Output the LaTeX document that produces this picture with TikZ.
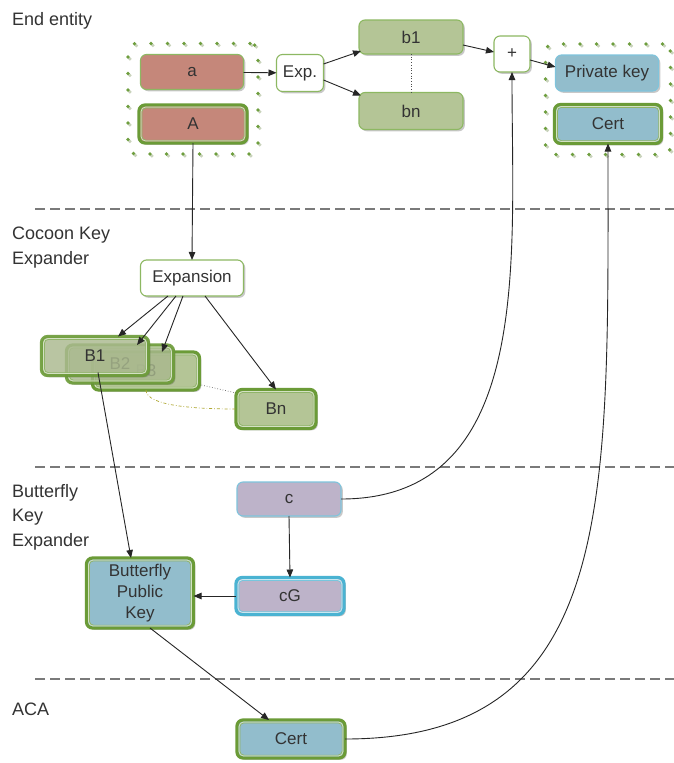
\documentclass[tikz,border=0pt]{standalone}
\usepackage{fontspec}
\setmainfont{Liberation Sans}
\usetikzlibrary{arrows.meta,shadows,fit,calc}
\definecolor{redf}{HTML}{C5877A}
\definecolor{greenf}{HTML}{B4C596}
\definecolor{bluef}{HTML}{92BDCC}
\definecolor{lavf}{HTML}{BDB3C9}
\definecolor{gthin}{HTML}{8DB862}
\definecolor{gthick}{HTML}{6B9B37}
\definecolor{bthin}{HTML}{7FC4DC}
\definecolor{bthick}{HTML}{4AB3D2}
\definecolor{txt}{HTML}{333333}
\definecolor{sepc}{HTML}{7A7A7A}
\definecolor{dotg}{HTML}{6E9E3E}
\definecolor{dotl}{HTML}{C9D3BC}
\newcommand\innerb[2]{%
  \draw[white!70!#2, line width=0.9pt, rounded corners=4.5pt] ([shift={(2.1,2.1)}]#1.north west) rectangle ([shift={(-2.1,-2.1)}]#1.south east);
  \draw[#2!75, line width=0.7pt, rounded corners=4pt] ([shift={(2.9,2.9)}]#1.north west) rectangle ([shift={(-2.9,-2.9)}]#1.south east);}
\begin{document}
\begin{tikzpicture}[x=1pt,y=-1pt,
 box/.style={rounded corners=6pt, inner sep=0pt, outer sep=0pt, text=txt, font=\fontsize{17}{20}\selectfont,
   drop shadow={shadow xshift=1.8pt, shadow yshift=-1.8pt, opacity=0.3, fill=black!70}},
 thinbox/.style={box, draw=#1, line width=1.1pt},
 thickbox/.style={box, draw=#1, line width=3.2pt},
 arr/.style={draw=black!85, line width=0.9pt, -{Triangle[length=8pt,width=6.5pt]}},
 sepline/.style={draw=sepc, line width=1.6pt, dash pattern=on 10pt off 5pt},
 lab/.style={anchor=base west, text=txt, font=\fontsize{18}{24.5}\selectfont, align=left, inner sep=0pt},
 grp/.style={rounded corners=8pt, inner sep=11pt, draw=dotg, line width=3.8pt, line cap=round,
   dash pattern=on 0pt off 16.5pt,
   preaction={draw=dotl, line width=3.8pt, line cap=round, dash pattern=on 0pt off 16.5pt,
     transform canvas={shift={(1.8pt,-1.8pt)}}}},
]
\useasboundingbox (0,0) rectangle (674,763);
\fill[white] (0,0) rectangle (674,763);

% separators
\draw[sepline] (35,209) -- (674,209);
\draw[sepline] (35,467) -- (674,467);
\draw[sepline] (35,679) -- (674,679);

% labels (anchor = baseline of the last line)
\node[lab] (l1) at (12,25) {End entity};
\node[lab] (l2) at (12,264) {Cocoon Key\\Expander};
\node[lab] (l3) at (12,546) {Butterfly\\Key\\Expander};
\node[lab] (l4) at (12,715) {ACA};

% end entity
\node[thinbox=gthin, fill=redf, minimum width=103, minimum height=35] (a) at (192,72) {a};
\node[thickbox=gthick, fill=redf, minimum width=108, minimum height=38] (A) at (193,124) {A};
\innerb{A}{gthick}
\node[thinbox=gthin, fill=white, minimum width=47, minimum height=37] (exp) at (300,73) {Exp.};
\node[thinbox=gthin, fill=greenf, minimum width=104, minimum height=34] (b1) at (411,37) {b1};
\node[thinbox=gthin, fill=greenf, minimum width=104, minimum height=37] (bn) at (411,111) {bn};
\node[thinbox=gthin, fill=white, minimum width=36, minimum height=36] (plus) at (512,54) {+};
\node[thinbox=bthin, fill=bluef, minimum width=103, minimum height=36] (pk) at (607,73) {Private key};
\node[thickbox=gthick, fill=bluef, minimum width=107, minimum height=39] (certT) at (608,124) {Cert};
\innerb{certT}{gthick}
\node[grp, fit=(a)(A)] (g1) {};
\node[grp, fit=(pk)(certT), inner xsep=9pt] (g2) {};

% cocoon
\node[thinbox=gthin, fill=white, minimum width=103, minimum height=36] (expn) at (192,278) {Expansion};
\node[thickbox=gthick, fill=greenf, minimum width=107, minimum height=38] (B3) at (146,371) {B3};
\innerb{B3}{gthick}
\node[thickbox=gthick, fill=greenf, fill opacity=0.72, draw opacity=0.9, text opacity=1, minimum width=107, minimum height=38] (B2) at (120,364) {B2};
\innerb{B2}{gthick}
\node[thickbox=gthick, fill=greenf, fill opacity=0.75, draw opacity=0.9, text opacity=1, minimum width=107, minimum height=39] (B1) at (95,356) {B1};
\innerb{B1}{gthick}
\node[thickbox=gthick, fill=greenf, minimum width=80, minimum height=39] (Bn) at (276,409) {Bn};
\innerb{Bn}{gthick}

% butterfly
\node[thinbox=bthin, fill=lavf, minimum width=104, minimum height=34] (c) at (289,499) {c};
\node[thickbox=bthick, fill=lavf, minimum width=108, minimum height=37] (cG) at (290,596) {cG};
\innerb{cG}{bthick}
\node[thickbox=gthick, fill=bluef, minimum width=107, minimum height=70, align=center, font=\fontsize{17}{21}\selectfont] (bpk) at (140,593) {Butterfly\\Public\\Key};
\innerb{bpk}{gthick}

% ACA
\node[thickbox=gthick, fill=bluef, minimum width=108, minimum height=38] (certA) at (291,739) {Cert};
\innerb{certA}{gthick}

% connectors
\draw[arr] (a) -- (exp);
\draw[arr] ($(exp.east)+(0,-9)$) -- ($(b1.south west)+(2,-3)$);
\draw[arr] ($(exp.east)+(0,7)$) -- ($(bn.north west)+(2,3)$);
\draw[black!70, line width=0.7pt, dotted] (b1.south) -- (bn.north);
\draw[arr] ($(b1.east)+(0,8)$) -- ($(plus.west)+(0,-2)$);
\draw[arr] ($(plus.east)+(0,6)$) -- ($(pk.west)+(0,-6)$);
\draw[arr] (A.south) -- (expn.north);
\draw[arr] ($(expn.south)+(-24,0)$) -- ($(B1.north)+(23,0)$);
\draw[arr] ($(expn.south)+(-16,0)$) -- ($(B2.north)+(17,0)$);
\draw[arr] ($(expn.south)+(-9,0)$) -- ($(B3.north)+(16,0)$);
\draw[arr] ($(expn.south)+(13,0)$) -- (Bn.north);
\draw[black!60, line width=0.7pt, dotted] ($(B3.south east)+(2,-5)$) -- ($(Bn.west)+(0,-16)$);
\draw[olive!70, line width=0.7pt, dash dot] (B3.south) .. controls +(0,16) and +(-40,0) .. (Bn.west);
\draw[arr] ($(B1.south)+(3,-3)$) -- ($(bpk.north)+(-9,0)$);
\draw[arr] (c.south) -- (cG.north);
\draw[arr] (cG.west) -- (cG.west -| bpk.east);
\draw[arr] ($(bpk.south)+(10,0)$) -- ($(certA.north)+(-22,0)$);
\draw[arr] (c.east) .. controls +(193,0) and +(0,187) .. (plus.south);
\draw[arr] (certA.east) .. controls +(273,0) and +(0,356) .. (certT.south);
\end{tikzpicture}
\end{document}
